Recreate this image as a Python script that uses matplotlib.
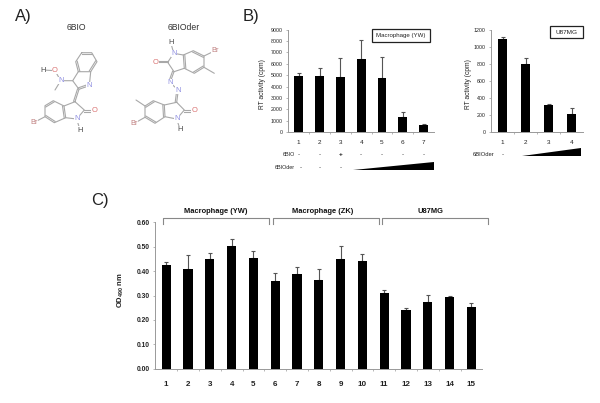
import math
import matplotlib
matplotlib.use('Agg')
import matplotlib.pyplot as plt
from matplotlib.patches import Polygon, Rectangle

W, H = 600, 403

# Panel B, macrophage
rt_mac_labels = ['1', '2', '3', '4', '5', '6', '7']
rt_mac = [4955, 4900, 4870, 6390, 4720, 1290, 645]
rt_mac_err = [265, 700, 1670, 1700, 1910, 500, 55]
rt_mac_ticks = [0, 1000, 2000, 3000, 4000, 5000, 6000, 7000, 8000, 9000]
bio_row = ['-', '-', '+', '-', '-', '-', '-']
bioder_row = ['-', '-', '-']

# Panel B, U87MG
rt_u87_labels = ['1', '2', '3', '4']
rt_u87 = [1098, 805, 324, 215]
rt_u87_err = [16, 70, 12, 66]
rt_u87_ticks = [0, 200, 400, 600, 800, 1000, 1200]

# Panel C
od_labels = [str(i) for i in range(1, 16)]
od = [0.4235, 0.408, 0.449, 0.501, 0.452, 0.359, 0.389, 0.362, 0.448, 0.441,
      0.311, 0.239, 0.275, 0.294, 0.253]
od_err = [0.015, 0.056, 0.024, 0.032, 0.029, 0.032, 0.026, 0.048, 0.056, 0.028,
          0.010, 0.008, 0.028, 0.006, 0.015]
od_ticks = [0.0, 0.1, 0.2, 0.3, 0.4, 0.5, 0.6]

plt.rcParams['font.family'] = ['Liberation Sans', 'DejaVu Sans']
plt.rcParams['mathtext.default'] = 'regular'
fig = plt.figure(figsize=(W / 100, H / 100), dpi=100)

# overlay in pixel coordinates for panel letters, structures and annotations
page = fig.add_axes([0, 0, 1, 1], zorder=5)
page.set_xlim(0, W)
page.set_ylim(H, 0)
page.axis('off')
page.patch.set_alpha(0)


def px_axes(left, right, top, bottom):
    return fig.add_axes([left / W, 1 - bottom / H, (right - left) / W, (bottom - top) / H])


def bar_panel(ax, labels, values, errs, ticks, fmt, ymax, fs, xfs, bold=False):
    pos = list(range(1, len(labels) + 1))
    weight = 'bold' if bold else 'normal'
    ax.bar(pos, values, width=0.42, color='black', zorder=2)
    # only the upper half of each error bar is shown
    ax.errorbar(pos, values, yerr=[[0] * len(errs), errs], fmt='none', ecolor='#555555',
                elinewidth=0.8, capsize=1.3, capthick=0.8, zorder=1)
    ax.set_xlim(0.5, len(labels) + 0.5)
    ax.set_ylim(0, ymax)
    ax.set_yticks(ticks)
    ax.set_yticklabels([fmt.format(t) for t in ticks], fontweight=weight)
    ax.set_xticks(pos)
    ax.set_xticklabels(labels, fontweight=weight)
    ax.set_xticks([p + 0.5 for p in pos[:-1]], minor=True)
    ax.tick_params(axis='x', which='major', length=0, labelsize=xfs, pad=5.5, colors='#222222')
    ax.tick_params(axis='x', which='minor', length=1.5, width=0.5, color='#999999')
    ax.tick_params(axis='y', length=1.5, width=0.5, color='#999999', labelsize=fs,
                   pad=2.5, labelcolor='#222222')
    for s in ['top', 'right']:
        ax.spines[s].set_visible(False)
    for s in ['left', 'bottom']:
        ax.spines[s].set_color('#999999')
        ax.spines[s].set_linewidth(0.7)


ax1 = px_axes(288.3, 434, 29.7, 132)
bar_panel(ax1, rt_mac_labels, rt_mac, rt_mac_err, rt_mac_ticks, '{:d}', 9000, 3.8, 4.6)
ax2 = px_axes(491, 583, 30, 132.3)
bar_panel(ax2, rt_u87_labels, rt_u87, rt_u87_err, rt_u87_ticks, '{:d}', 1200, 3.8, 4.6)
ax3 = px_axes(155.3, 482.3, 222.3, 368.7)
bar_panel(ax3, od_labels, od, od_err, od_ticks, '{:.2f}', 0.6, 4.8, 5.8, bold=True)
ax3.tick_params(axis='x', pad=9)

# panel letters
page.text(15, 16, 'A)', fontsize=12, ha='left', va='center', color='#222222')
page.text(243, 16, 'B)', fontsize=12, ha='left', va='center', color='#222222')
page.text(91, 201, 'C)', fontsize=12, ha='left', va='center', color='#222222')

# axis titles
page.text(263, 84, 'RT activity (cpm)', fontsize=4.8, rotation=90, ha='center', va='center', color='#222222')
page.text(468, 84, 'RT activity (cpm)', fontsize=4.8, rotation=90, ha='center', va='center', color='#222222')
page.text(121, 290, 'OD$_{490}$ nm', fontsize=5.5, rotation=90, ha='center', va='center',
          fontweight='bold', color='#222222')

# cell type boxes
page.add_patch(Rectangle((372, 29.3), 58, 13, fill=False, ec='#222222', lw=0.9))
page.text(401, 36, 'Macrophage (YW)', fontsize=4.4, ha='center', va='center', color='#222222')
page.add_patch(Rectangle((550, 25.7), 33, 12.6, fill=False, ec='#222222', lw=0.9))
page.text(566.5, 32, 'U87MG', fontsize=4.6, ha='center', va='center', color='#222222')

# treatment rows under panel B
page.text(295, 155, '6BIO', fontsize=3.9, ha='right', va='center', color='#222222')
for i, sign in enumerate(bio_row):
    page.text(ax1.transData.transform((i + 1, 0))[0], 155, sign, fontsize=4.5, ha='center', va='center',
              color='#222222', fontweight='bold' if sign == '+' else 'normal')
page.text(295, 167.5, '6BIOder', fontsize=3.9, ha='right', va='center', color='#222222')
for i, sign in enumerate(bioder_row):
    page.text(ax1.transData.transform((i + 1, 0))[0] + (2 if i == 0 else 0), 168, sign,
              fontsize=4.5, ha='center', va='center', color='#222222')
page.add_patch(Polygon([(353, 169.5), (434, 169.5), (434, 161.7)], fc='black', ec='none'))

page.text(503, 155, '-', fontsize=4.5, ha='center', va='center', color='#222222')
page.text(483.5, 154.5, '6BIOder', fontsize=4.2, ha='center', va='center', color='#222222')
page.add_patch(Polygon([(521.7, 155.7), (580.7, 155.7), (580.7, 148)], fc='black', ec='none'))


# brackets above panel C
def bracket(x0, x1, label, xt):
    page.plot([x0, x0, x1, x1], [224.3, 218.3, 218.3, 224.3], color='#888888', lw=0.8)
    page.text(xt, 211.7, label, fontsize=5.4, ha='center', va='center', fontweight='bold', color='#111111')


bracket(163.3, 269.3, 'Macrophage (YW)', 216)
bracket(272.7, 379.3, 'Macrophage (ZK)', 323)
bracket(381.7, 488.3, 'U87MG', 430.7)

# compound names
page.text(76, 27, '6BIO', fontsize=6.2, ha='center', va='center', color='#333333')
page.text(184, 27, '6BIOder', fontsize=6.2, ha='center', va='center', color='#333333')

BOND = '#a8a8a8'
RED = '#d9706f'
BLUE = '#8f8fe0'
BROM = '#c08080'
DARK = '#444444'


def chain(*points):
    page.plot([p[0] for p in points], [p[1] for p in points], color=BOND, lw=0.8,
              solid_capstyle='round')


def double(a, b, off=1.6):
    # second stroke of a double bond, offset sideways from a-b
    dx, dy = b[0] - a[0], b[1] - a[1]
    n = math.hypot(dx, dy)
    ox, oy = -dy / n * off, dx / n * off
    page.plot([a[0] + ox, b[0] + ox], [a[1] + oy, b[1] + oy], color=BOND, lw=0.8)


def atom(p, s, color):
    page.text(p[0], p[1], s, fontsize=5.4, ha='center', va='center', color=color,
              bbox=dict(fc='white', ec='none', pad=0.2), zorder=6)


# 6BIO structure, upper ring system
a1, a2, a3 = (81.7, 52.7), (91.7, 52.7), (97, 61.7)
a4, a5, a6 = (90.7, 71.7), (78.3, 71.7), (75.7, 61.7)
chain(a1, a2, a3, a4, a5, a6, a1)
double(a1, a2, 1.6); double(a3, a4, 1.6); double(a5, a6, 1.6)
b1, b2, b3 = (72.7, 80.7), (79, 89.3), (89.3, 85.7)
chain(a5, b1, b2, b3, a4)
double(b2, b3, -1.6)
n1, o1, h1, me1 = (60.7, 80.7), (55, 70.7), (43.3, 70), (55, 90)
chain(b1, n1, o1, h1)
chain(n1, me1)
# 6BIO lower ring system
c3, c2, o2, n2, h2 = (75, 101.7), (84.3, 110), (94.3, 110), (76.7, 119), (80, 130)
c7a, c3a = (65.7, 117.7), (64, 106)
chain(b2, c3, c2, n2, c7a, c3a, c3)
double(b2, c3, 1.5)
chain(c2, o2)
double(c2, o2, 1.6)
chain(n2, h2)
d1, d2, d3, d4 = (53.3, 100.7), (45, 105.7), (45, 116.7), (54.3, 122.7)
chain(c3a, d1, d2, d3, d4, c7a)
double(d1, d2, -1.5); double(d3, d4, -1.5); double(c3a, c7a, 1.5)
br1 = (34.3, 122.3)
chain(d3, br1)
atom(h1, 'H', DARK); atom(o1, 'O', RED); atom(n1, 'N', BLUE); atom(b3, 'N', BLUE)
atom(o2, 'O', RED); atom(n2, 'N', BLUE); atom(h2, 'H', DARK); atom(br1, 'Br', BROM)

# 6BIOder structure, upper ring system
h3, n3, e2, o3, e3 = (170.7, 42.3), (173.7, 53.3), (167.7, 62.3), (155.7, 62.3), (174, 71.7)
e3a, e7a = (184.3, 68.3), (183.3, 55)
chain(h3, n3, e2, e3, e3a, e7a, n3)
chain(e2, o3)
double(e2, o3, 1.6)
f1, f2, f3, f4 = (193.3, 50.7), (204, 56), (204, 67.3), (194.3, 73.3)
chain(e7a, f1, f2, f3, f4, e3a)
double(f1, f2, 1.5); double(f3, f4, 1.5); double(e3a, e7a, 1.5)
br2, me2 = (215, 50.7), (214.3, 73.3)
chain(f2, br2)
chain(f3, me2)
# azine link
n4, n5 = (170, 82.7), (178.3, 90)
g3 = (176.7, 102.3)
chain(e3, n4, n5, g3)
double(e3, n4, 1.5); double(n5, g3, 1.5)
# 6BIOder, lower ring system
g2, o4, n6, h4 = (184.3, 110), (194.3, 110), (176.7, 119), (180, 129.3)
g7a, g3a = (165, 116.7), (164.3, 105)
chain(g3, g2, n6, g7a, g3a, g3)
chain(g2, o4)
double(g2, o4, 1.6)
chain(n6, h4)
k1, k2, k3, k4 = (153.3, 100.7), (145, 106), (145, 117.3), (155, 123.3)
chain(g3a, k1, k2, k3, k4, g7a)
double(k1, k2, -1.5); double(k3, k4, -1.5); double(g3a, g7a, 1.5)
me3, br3 = (136, 100), (134.3, 123.3)
chain(k2, me3)
chain(k3, br3)
atom(h3, 'H', DARK); atom(n3, 'N', BLUE); atom(o3, 'O', RED); atom(br2, 'Br', BROM)
atom(n4, 'N', BLUE); atom(n5, 'N', BLUE); atom(o4, 'O', RED); atom(n6, 'N', BLUE)
atom(h4, 'H', DARK); atom(br3, 'Br', BROM)

fig.savefig('out.png', dpi=100)
